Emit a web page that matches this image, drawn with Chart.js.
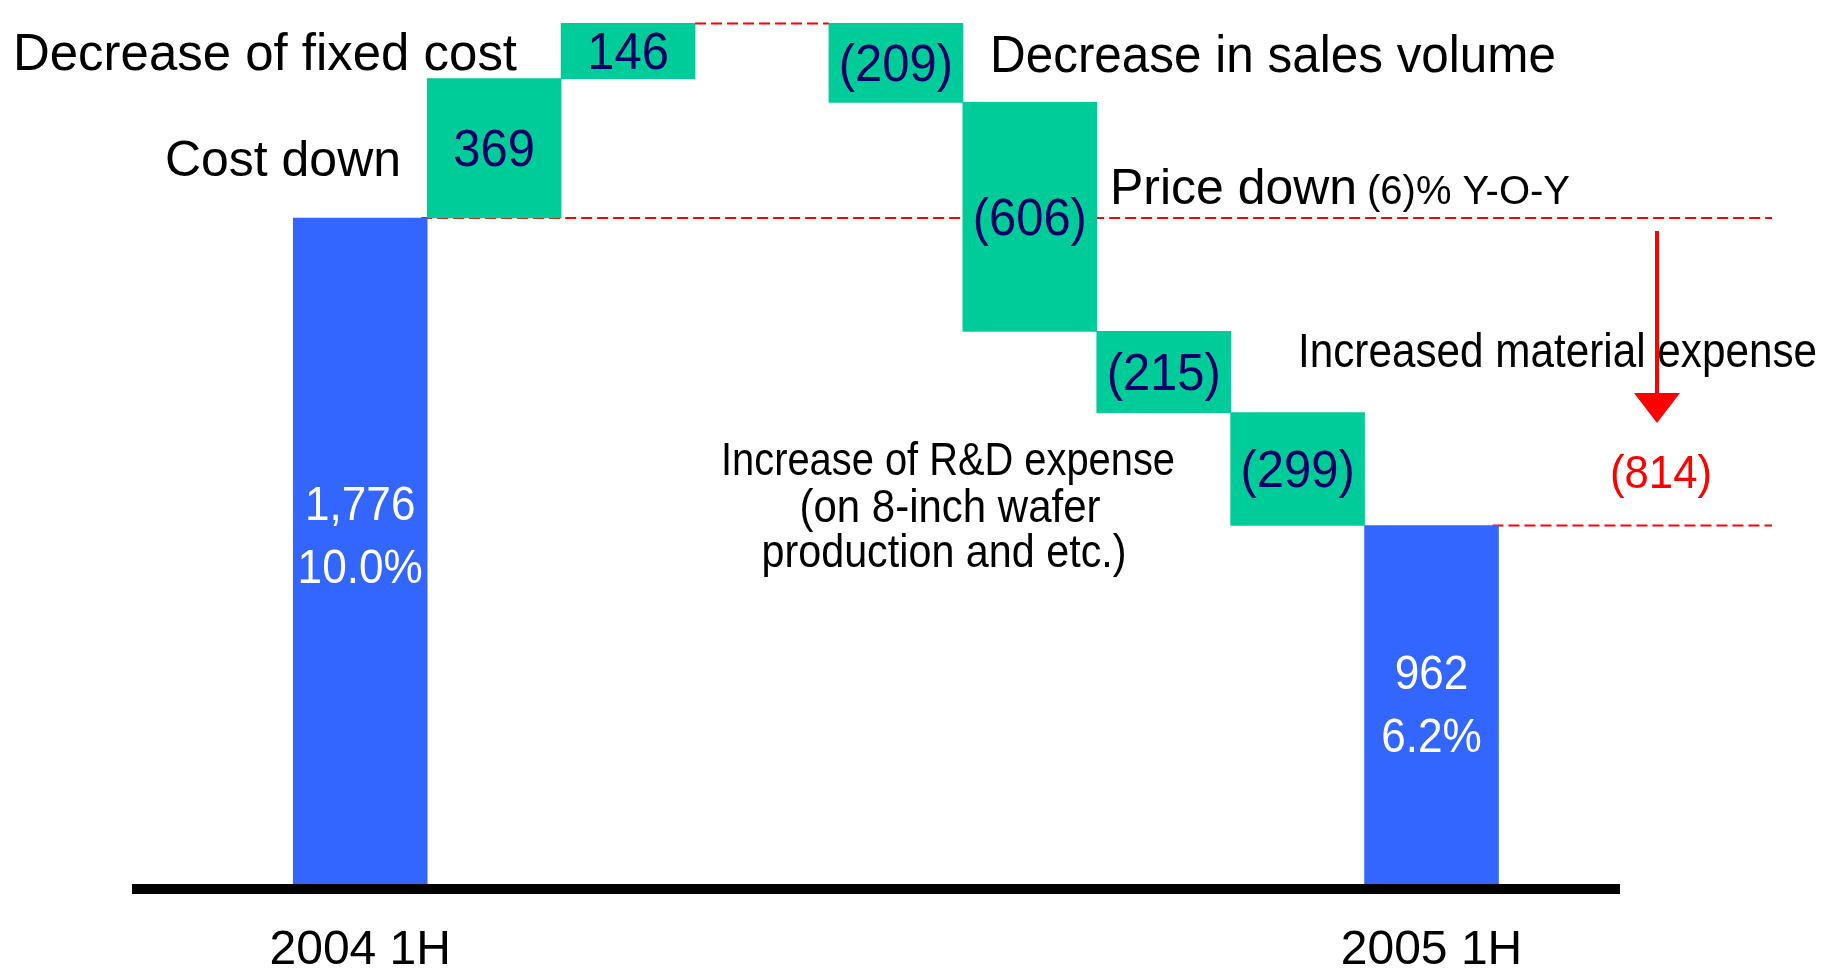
<!DOCTYPE html>
<html>
<head>
<meta charset="utf-8">
<script src="https://cdn.jsdelivr.net/npm/chart.js@4"></script>
<style>
  html, body { margin: 0; padding: 0; background: #fff; }
  #wrap { width: 1833px; height: 975px; }
</style>
</head>
<body>
<div id="wrap"><canvas id="chart"></canvas></div>
<script>
// Datos del puente de beneficio operativo (2004 1H -> 2005 1H)
const categories = ['2004 1H', 'Cost down', 'Decrease of fixed cost', '', 'Decrease in sales volume',
                    'Price down', 'Increased material expense', 'Increase of R&D expense', '2005 1H'];
const totals     = [1776, null, null, null, null, null, null, null, 962];
const margins    = ['10.0%', null, null, null, null, null, null, null, '6.2%'];
const changes    = [null, 369, 146, null, -209, -606, -215, -299, null];
const tickLabels = ['2004 1H', '', '', '', '', '', '', '', '2005 1H'];

const FONT  = '"Liberation Sans", Arial, sans-serif';
const BLUE  = '#3366FF';
const GREEN = '#00CC99';
const NAVY  = '#000066';
const RED   = '#FF0000';

// Barras flotantes a partir del acumulado
const totalBars = [], stepBars = [];
let level = 0, peak = 0;
categories.forEach((c, i) => {
  if (totals[i] != null) {
    totalBars.push({ x: i, y: [0, totals[i]] });
    level = totals[i];
  } else if (changes[i] != null) {
    stepBars.push({ x: i, y: [level, level + changes[i]] });
    level += changes[i];
  }
  peak = Math.max(peak, level);
});

// Textos de anotación (posición en píxeles)
const notes = [
  { text: 'Decrease of fixed cost',     x: 13,   y: 70,  size: 52, width: 504 },
  { text: 'Cost down',                  x: 401,  y: 176, size: 50, width: 236, align: 'right' },
  { text: 'Decrease in sales volume',   x: 990,  y: 72,  size: 52, width: 566 },
  { text: 'Price down',                 x: 1110, y: 204, size: 50, width: 247 },
  { text: '(6)% Y-O-Y',                 x: 1367, y: 204, size: 40, width: 207 },
  { text: 'Increased material expense', x: 1298, y: 367, size: 48, width: 519 },
  { text: 'Increase of R&D expense',    x: 948,  y: 475, size: 46, width: 454, align: 'center' },
  { text: '(on 8-inch wafer',           x: 950,  y: 522, size: 46, width: 301, align: 'center' },
  { text: 'production and etc.)',       x: 944,  y: 567, size: 46, width: 365, align: 'center' }
];

function txt(ctx, s, x, y, size, opt) {
  ctx.font = size + 'px ' + FONT;
  ctx.fillStyle = opt.color || '#000';
  ctx.textAlign = opt.align || 'left';
  ctx.textBaseline = 'alphabetic';
  const w = ctx.measureText(s).width;
  const max = opt.width ? Math.min(opt.width, w) : w * (opt.squeeze || 1);
  ctx.fillText(s, x, y, max);
}

function dashed(ctx, x1, x2, y) {
  ctx.save();
  ctx.strokeStyle = RED;
  ctx.lineWidth = 2;
  ctx.setLineDash([11, 5]);
  ctx.beginPath();
  ctx.moveTo(x1, y);
  ctx.lineTo(x2, y);
  ctx.stroke();
  ctx.restore();
}

const bridgePlugin = {
  id: 'bridge',
  beforeDatasetsDraw(chart) {
    // líneas de referencia (debajo de las barras)
    const ctx = chart.ctx;
    const yS = chart.scales.y;
    const tot = chart.getDatasetMeta(0).data;
    const steps = chart.getDatasetMeta(1).data;
    const first = tot[0], last = tot[tot.length - 1];
    dashed(ctx, first.x + first.width / 2 - 6, 1772, yS.getPixelForValue(totals[0]));
    dashed(ctx, last.x + last.width / 2 - 6, 1772, yS.getPixelForValue(totals[8]));
    const pk = steps.findIndex((b, j) => stepBars[j].y[1] === peak);
    if (pk >= 0 && steps[pk + 1]) {
      dashed(ctx, steps[pk].x + steps[pk].width / 2, steps[pk + 1].x - steps[pk + 1].width / 2,
             yS.getPixelForValue(peak));
    }
  },
  afterDatasetsDraw(chart) {
    const ctx = chart.ctx;
    const tot = chart.getDatasetMeta(0).data;
    const steps = chart.getDatasetMeta(1).data;
    ctx.save();

    // valores de los pasos
    steps.forEach((bar, j) => {
      const v = changes[stepBars[j].x];
      const s = v < 0 ? '(' + (-v) + ')' : String(v);
      const mid = (bar.y + bar.base) / 2;
      txt(ctx, s, bar.x, mid + 18, 52, { align: 'center', color: NAVY, squeeze: 0.94 });
    });

    // totales
    tot.forEach((bar, j) => {
      const i = totalBars[j].x;
      const h = bar.base - bar.y;
      const y1 = bar.y + h * 0.45;
      txt(ctx, totals[i].toLocaleString('en-US'), bar.x, y1, 48, { align: 'center', color: '#fff', squeeze: 0.92 });
      txt(ctx, margins[i], bar.x, y1 + 63, 48, { align: 'center', color: '#fff', squeeze: 0.92 });
    });

    // flecha roja y diferencia total
    const ax = 1657, aTop = 231, aTip = 423;
    ctx.strokeStyle = RED;
    ctx.fillStyle = RED;
    ctx.lineWidth = 4;
    ctx.beginPath();
    ctx.moveTo(ax, aTop);
    ctx.lineTo(ax, aTip - 28);
    ctx.stroke();
    ctx.beginPath();
    ctx.moveTo(ax - 23, aTip - 30);
    ctx.lineTo(ax + 23, aTip - 30);
    ctx.lineTo(ax, aTip);
    ctx.closePath();
    ctx.fill();
    txt(ctx, '(' + (totals[0] - totals[8]) + ')', 1661, 488, 46, { align: 'center', color: RED, squeeze: 0.95 });

    notes.forEach(n => txt(ctx, n.text, n.x, n.y, n.size, { align: n.align, width: n.width }));
    ctx.restore();
  }
};

new Chart(document.getElementById('chart'), {
  type: 'bar',
  data: {
    datasets: [
      { data: totalBars, backgroundColor: BLUE, borderWidth: 0, grouped: false,
        barPercentage: 1, categoryPercentage: 1 },
      { data: stepBars, backgroundColor: GREEN, borderWidth: 0, grouped: false,
        barPercentage: 1, categoryPercentage: 1 }
    ]
  },
  options: {
    responsive: true,
    maintainAspectRatio: false,
    animation: false,
    layout: { padding: { left: 137, right: 214, top: 0, bottom: 0 } },
    plugins: { legend: { display: false }, tooltip: { enabled: false } },
    scales: {
      x: {
        type: 'linear',
        offset: false,
        min: -1.667,
        max: 9.40,
        grid: { display: false, drawTicks: false, offset: false },
        border: { display: true, color: '#000', width: 10, z: 1 },
        afterFit: s => { s.height = 86; },
        afterBuildTicks: s => {
          s.ticks = tickLabels.map((t, i) => t ? { value: i } : null).filter(Boolean);
        },
        ticks: {
          autoSkip: false,
          maxRotation: 0,
          padding: 38,
          color: '#000',
          font: { size: 48, family: FONT, lineHeight: 1 },
          callback: v => tickLabels[v]
        }
      },
      y: {
        display: false,
        min: 0,
        max: 2353
      }
    }
  },
  plugins: [bridgePlugin]
});
</script>
</body>
</html>
